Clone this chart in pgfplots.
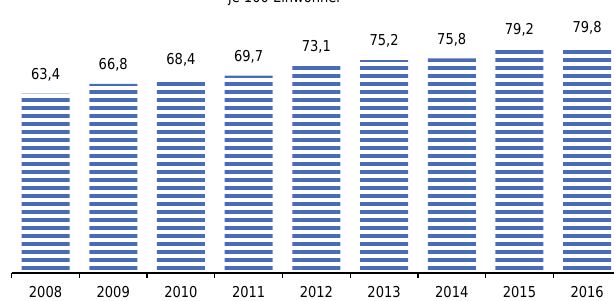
\documentclass[border=0pt]{standalone}
\usepackage{fontspec}
\setmainfont{DejaVu Sans}[FakeStretch=0.87]
\usepackage{pgfplots}
\pgfplotsset{compat=1.18}
\usetikzlibrary{patterns.meta}
\definecolor{barblue}{HTML}{4A6BB5}
\begin{document}
\begin{tikzpicture}[x=1bp,y=1bp,font=\fontsize{15bp}{18bp}\selectfont]
\useasboundingbox (0,0) rectangle (614,300);
\begin{axis}[
  at={(11.7bp,27bp)}, anchor=south west,
  scale only axis, width=609.3bp, height=254.7bp,
  xmin=-0.5, xmax=8.5, ymin=0, ymax=90,
  axis y line=none, axis x line*=bottom,
  x axis line style={line width=1.3bp, black, -},
  xtick={0,...,8},
  xticklabels={2008,2009,2010,2011,2012,2013,2014,2015,2016},
  major tick length=0pt,
  minor xtick={-0.5,0.5,...,8.5},
  minor tick length=4.5bp,
  tick align=outside,
  minor x tick style={line width=1.3bp, black},
  xticklabel style={anchor=base, inner sep=0pt, yshift=-24.5bp, font=\fontsize{15bp}{18bp}\selectfont},
  ybar, bar width=48bp,
  nodes near coords,
  every node near coord/.append style={anchor=south, inner sep=0pt, yshift=12.5bp, font=\fontsize{15bp}{18bp}\selectfont, text=black},
  /pgf/number format/.cd, use comma, fixed, fixed zerofill, precision=1, assume math mode=true,
]
\addplot[draw=none, bar shift=0pt, pattern={Lines[angle=0, distance=8bp, line width=3.6bp]}, pattern color=barblue]
coordinates {(0,63.4) (1,66.8) (2,68.4) (3,69.7) (4,73.1) (5,75.2) (6,75.8) (7,79.2) (8,79.8)};
\end{axis}
\node[anchor=base, inner sep=0pt] at (285,297.5) {je 100 Einwohner};
\end{tikzpicture}
\end{document}
